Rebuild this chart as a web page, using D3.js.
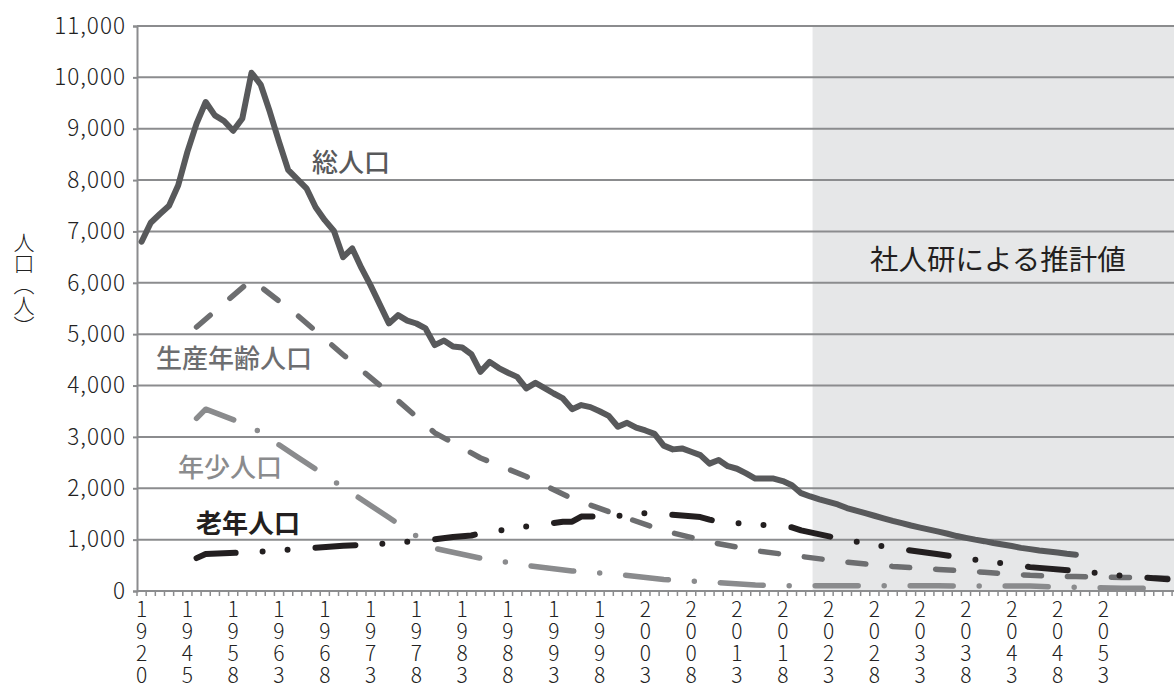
<!DOCTYPE html>
<html lang="ja">
<head>
<meta charset="utf-8">
<script src="https://cdnjs.cloudflare.com/ajax/libs/d3/7.8.5/d3.min.js"></script>
<style>
  html, body { margin: 0; padding: 0; background: #fff; }
  svg { display: block; font-family: "Noto Sans CJK JP", "Noto Sans", sans-serif; }
</style>
</head>
<body>
<div id="chart"></div>
<script>
// Categories: census years first, then every year from 1958
const years = [1920, 1925, 1930, 1935, 1940, 1945, 1950, 1955, 1956, 1957]
  .concat(d3.range(1958, 2061));

const labelYears = [1920, 1945, 1958, 1963, 1968, 1973, 1978, 1983, 1988, 1993,
  1998, 2003, 2008, 2013, 2018, 2023, 2028, 2033, 2038, 2043, 2048, 2053];

const yTicks = [0, 1000, 2000, 3000, 4000, 5000, 6000, 7000, 8000, 9000, 10000, 11000];

const projectionStart = 2022;

// 総人口 (1920 .. 2050)
const totalPop = [
  6800, 7170, 7340, 7500, 7900, 8550, 9100, 9520, 9260, 9150,
  8960, 9200, 10090, 9860, 9330, 8750, 8200, 8020, 7840, 7470,
  7220, 7010, 6500, 6670, 6290, 5950, 5580, 5210, 5370, 5265,
  5208, 5111, 4786, 4875, 4760, 4740, 4610, 4267, 4461, 4340,
  4250, 4169, 3944, 4053, 3950, 3845, 3749, 3540, 3619, 3580,
  3500, 3410, 3197, 3274, 3180, 3125, 3060, 2830, 2757, 2776,
  2710, 2646, 2480, 2549, 2430, 2380, 2290, 2190, 2190, 2190,
  2140, 2060, 1905, 1840, 1785, 1735, 1685, 1615, 1565, 1515,
  1465, 1415, 1365, 1320, 1275, 1235, 1195, 1155, 1115, 1070,
  1035, 1000, 970, 935, 905, 875, 840, 815, 790, 770,
  750, 725, 705
];

// 生産年齢人口
const workYears = [1950, 1960, 1965, 1970, 1975, 1980, 1985, 1990, 1995, 2000, 2005,
  2010, 2015, 2020, 2025, 2030, 2035, 2040, 2045, 2050, 2055, 2060];
const workPop = [5140, 6060, 5370, 4600, 3860, 3080, 2590, 2230, 1800, 1480, 1175,
  955, 785, 672, 560, 478, 420, 365, 305, 280, 265, 250];

// 年少人口
const youthYears = [1950, 1955, 1960, 1965, 1970, 1975, 1980, 1985, 1990, 1995, 2000,
  2005, 2010, 2015, 2020, 2025, 2030, 2035, 2040, 2045, 2050, 2055, 2060];
const youthPop = [3360, 3540, 3200, 2610, 2020, 1430, 830, 640, 500, 390, 323,
  225, 175, 115, 100, 100, 100, 100, 98, 95, 70, 55, 50];

// 老年人口
const oldYears = [1950, 1955, 1960, 1965, 1970, 1975, 1980, 1982, 1984, 1985, 1990,
  1994, 1995, 1996, 1997, 2000, 2003, 2005, 2007, 2009, 2010, 2011, 2015, 2019, 2020,
  2025, 2030, 2035, 2040, 2045, 2050, 2055, 2060];
const oldPop = [640, 720, 755, 815, 880, 925, 1005, 1050, 1080, 1125, 1255,
  1348, 1350, 1450, 1452, 1460, 1515, 1495, 1470, 1440, 1390, 1345, 1295, 1240, 1180,
  990, 837, 715, 585, 465, 392, 298, 230];

const width = 1174;
const height = 689;
const plotLeft = 137;
const plotTop = 26;
const plotBottom = 591;
const gridCol = "#8b8c8e";

const svg = d3.select("#chart")
  .append("svg")
  .attr("width", width)
  .attr("height", height);

const x = d3.scaleBand()
  .domain(years)
  .range([plotLeft, plotLeft + years.length * 9.16]);

const y = d3.scaleLinear()
  .domain([0, 11000])
  .range([plotBottom, plotTop]);

const cx = yr => x(yr) + x.bandwidth() / 2;

// Projection shading
const shadeX = x(projectionStart - 1) + x.bandwidth() * 0.75;
svg.append("rect")
  .attr("x", shadeX)
  .attr("y", plotTop)
  .attr("width", width - shadeX)
  .attr("height", plotBottom - plotTop)
  .style("fill", "#e6e7e8");

// Gridlines
svg.append("g")
  .selectAll("line")
  .data(yTicks)
  .enter()
  .append("line")
  .attr("x1", plotLeft)
  .attr("x2", width)
  .attr("y1", d => y(d))
  .attr("y2", d => y(d))
  .style("stroke", gridCol)
  .style("stroke-width", 2);

// Y axis
const yAxis = svg.append("g")
  .attr("transform", `translate(${plotLeft},0)`)
  .call(d3.axisLeft(y).tickValues(yTicks).tickFormat(d3.format(",")).tickSize(4).tickPadding(7));
yAxis.select(".domain").style("stroke", gridCol).style("stroke-width", 2);
yAxis.selectAll(".tick line").style("stroke", gridCol).style("stroke-width", 2);
yAxis.selectAll(".tick text")
  .style("font-family", '"Noto Sans CJK JP", sans-serif')
  .style("font-size", "22.5px")
  .style("font-weight", 300)
  .style("letter-spacing", "1px")
  .style("fill", "#222");

// X axis line and minor ticks at category boundaries
svg.append("line")
  .attr("x1", plotLeft)
  .attr("x2", width)
  .attr("y1", plotBottom)
  .attr("y2", plotBottom)
  .style("stroke", gridCol)
  .style("stroke-width", 2);

const bounds = years.map(d => x(d)).concat([x(years[years.length - 1]) + x.bandwidth()]);
svg.append("g")
  .selectAll("line")
  .data(bounds)
  .enter()
  .append("line")
  .attr("x1", d => d)
  .attr("x2", d => d)
  .attr("y1", plotBottom)
  .attr("y2", plotBottom + 5)
  .style("stroke", gridCol)
  .style("stroke-width", 1.5);

// Year labels, digits stacked upright in vertical writing
svg.append("g")
  .selectAll("text")
  .data(labelYears)
  .enter()
  .append("text")
  .attr("x", d => cx(d))
  .attr("y", 599)
  .style("writing-mode", "vertical-rl")
  .style("text-orientation", "upright")
  .style("letter-spacing", "1px")
  .style("font-size", "21px")
  .style("font-weight", 300)
  .style("fill", "#222")
  .text(d => String(d));

// Y axis title
svg.append("text")
  .attr("x", 24)
  .attr("y", 232)
  .style("writing-mode", "vertical-rl")
  .style("font-size", "21px")
  .style("font-weight", 300)
  .style("fill", "#222")
  .text("人口（人）");

// Lines
const line = d3.line()
  .x(d => cx(d.year))
  .y(d => y(d.v));

function toPoints(yrs, vals) {
  return vals.map((v, i) => ({ year: yrs[i], v: v }));
}

const series = [
  { pts: toPoints(youthYears, youthPop), col: "#8a8b8d", w: 5.5, dash: "43,26,0,26" },
  { pts: toPoints(workYears, workPop), col: "#6d6e70", w: 5.5, dash: "18,26" },
  { pts: toPoints(oldYears, oldPop), col: "#231f20", w: 6, dash: "40,27,0,25,0,28" },
  { pts: toPoints(years.slice(0, totalPop.length), totalPop), col: "#58595b", w: 6, dash: null }
];

svg.append("g")
  .selectAll("path")
  .data(series)
  .enter()
  .append("path")
  .attr("d", d => line(d.pts))
  .style("fill", "none")
  .style("stroke", d => d.col)
  .style("stroke-width", d => d.w)
  .style("stroke-linecap", "round")
  .style("stroke-linejoin", "round")
  .style("stroke-dasharray", d => d.dash);

// Series labels
const seriesLabels = [
  { text: "総人口", x: 312, y: 160, col: "#58595b", weight: 500 },
  { text: "生産年齢人口", x: 156, y: 356, col: "#6d6e70", weight: 500 },
  { text: "年少人口", x: 178, y: 465, col: "#8a8b8d", weight: 500 },
  { text: "老年人口", x: 196, y: 521, col: "#231f20", weight: "bold" }
];

svg.append("g")
  .selectAll("text")
  .data(seriesLabels)
  .enter()
  .append("text")
  .attr("x", d => d.x)
  .attr("y", d => d.y)
  .attr("dominant-baseline", "central")
  .style("font-size", "26px")
  .style("font-weight", d => d.weight)
  .style("fill", d => d.col)
  .text(d => d.text);

svg.append("text")
  .attr("x", 870)
  .attr("y", 257)
  .attr("dominant-baseline", "central")
  .style("font-size", "28.5px")
  .style("fill", "#231f20")
  .text("社人研による推計値");
</script>
</body>
</html>
